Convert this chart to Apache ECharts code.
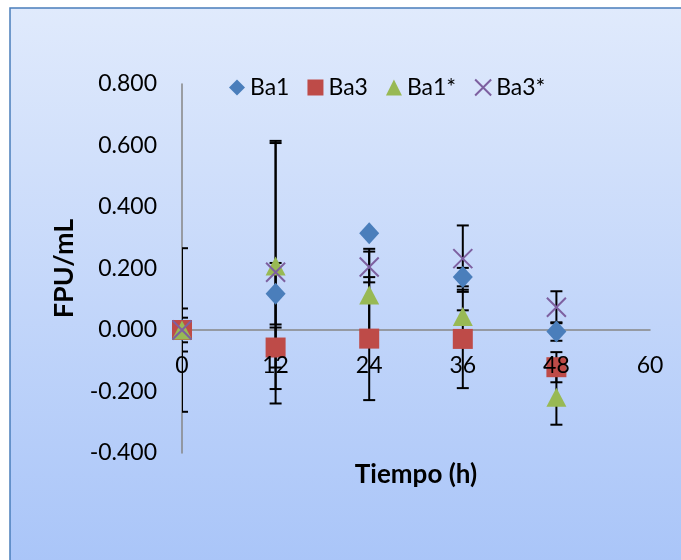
<!DOCTYPE html>
<html>
<head>
<meta charset="utf-8">
<script src="https://cdn.jsdelivr.net/npm/echarts@6/dist/echarts.min.js"></script>
<style>
html,body{margin:0;padding:0;background:#fff;}
#c{width:681px;height:560px;}
</style>
</head>
<body>
<div id="c"></div>
<script>
var times = [0, 12, 24, 36, 48];
var xTicks = [0, 12, 24, 36, 48, 60];
var yTicks = [-0.4, -0.2, 0, 0.2, 0.4, 0.6, 0.8];
var seriesNames = ['Ba1', 'Ba3', 'Ba1*', 'Ba3*'];
var ba1 = [0, 0.118, 0.315, 0.172, -0.005];
var ba1Err = [0.266, 0.10, 0.005, 0.03, 0.03];
var ba3 = [0, -0.057, -0.028, -0.029, -0.121];
var ba3Err = [0.07, 0.065, 0.20, 0.16, 0.049];
var ba1s = [0, 0.208, 0.114, 0.044, -0.219];
var ba1sErr = [0.04, 0.40, 0.15, 0.02, 0.089];
var ba3s = [0, 0.188, 0.205, 0.232, 0.074];
var ba3sErr = [0.02, 0.427, 0.05, 0.108, 0.052];

var values = [ba1, ba3, ba1s, ba3s];
var errs = [ba1Err, ba3Err, ba1sErr, ba3sErr];
var colors = ['#4a7ebb', '#be4b48', '#98b954', '#7d60a0'];
var FONT = 'Lato';

function pts(v) { return times.map(function (t, i) { return [t, v[i]]; }); }
var errData = [];
values.forEach(function (v, s) {
  times.forEach(function (t, i) { errData.push([t, v[i], errs[s][i]]); });
});

var chart = echarts.init(document.getElementById('c'), null, {renderer: 'canvas'});
var option = {
  animation: false,
  graphic: [{
    type: 'rect', z: -10, silent: true,
    shape: {x: 10, y: 8, width: 720, height: 600},
    style: {
      fill: new echarts.graphic.LinearGradient(0, 0, 0, 1, [
        {offset: 0, color: '#e0eafc'}, {offset: 1, color: '#a5c2f8'}
      ]),
      stroke: '#4a7ebb', lineWidth: 1.5
    }
  }],
  grid: {left: 182, right: 31, top: 84, bottom: 107, containLabel: false, outerBoundsMode: 'none'},
  legend: {
    data: [
      {name: 'Ba1'}, {name: 'Ba3'}, {name: 'Ba1*'}, {name: 'Ba3*'}
    ],
    left: 224, top: 71, itemWidth: 16, itemHeight: 16, itemGap: 18,
    textStyle: {fontFamily: FONT, fontSize: 23, color: '#000'}
  },
  xAxis: [{
    type: 'value', min: 0, max: 60, interval: 12, position: 'bottom', z: 0,
    axisLine: {onZero: true, lineStyle: {color: '#868686', width: 1.5}},
    axisTick: {show: false}, splitLine: {show: false},
    axisLabel: {show: false},
    name: 'Tiempo (h)', nameLocation: 'middle', nameGap: 9,
    nameTextStyle: {fontFamily: FONT, fontSize: 26, fontWeight: 'bold', color: '#000'}
  }, {
    type: 'value', min: 0, max: 60, interval: 12, position: 'bottom', z: 20,
    axisLine: {show: false, onZero: false},
    axisTick: {show: false}, splitLine: {show: false},
    axisLabel: {fontFamily: FONT, fontSize: 23, color: '#000', margin: -99}
  }],
  yAxis: {
    type: 'value', min: -0.4, max: 0.8, interval: 0.2,
    axisLine: {show: true, lineStyle: {color: '#868686', width: 1.5}},
    axisTick: {show: false}, splitLine: {show: false},
    axisLabel: {fontFamily: FONT, fontSize: 23, color: '#000', margin: 25,
      formatter: function (v) { return v.toFixed(3); }},
    name: 'FPU/mL', nameLocation: 'middle', nameGap: 104, nameRotate: 90,
    nameTextStyle: {fontFamily: FONT, fontSize: 27, fontWeight: 'bold', color: '#000'}
  },
  series: [
    {
      type: 'custom', name: 'err', z: 1, clip: true, silent: true,
      data: errData,
      renderItem: function (params, api) {
        var x = api.value(0), y = api.value(1), e = api.value(2);
        var top = api.coord([x, y + e]);
        var bot = api.coord([x, y - e]);
        var w = 6;
        var st = {stroke: '#000', lineWidth: 2};
        return {
          type: 'group', children: [
            {type: 'line', shape: {x1: top[0], y1: top[1], x2: bot[0], y2: bot[1]}, style: st},
            {type: 'line', shape: {x1: top[0] - w, y1: top[1], x2: top[0] + w, y2: top[1]}, style: st},
            {type: 'line', shape: {x1: bot[0] - w, y1: bot[1], x2: bot[0] + w, y2: bot[1]}, style: st}
          ]
        };
      }
    },
    {name: 'Ba1', type: 'scatter', z: 3, data: pts(ba1), symbol: 'diamond', symbolSize: [20, 22],
      itemStyle: {color: colors[0], opacity: 1}},
    {name: 'Ba3', type: 'scatter', z: 4, data: pts(ba3), symbol: 'rect', symbolSize: [20, 20],
      itemStyle: {color: colors[1], opacity: 1}},
    {name: 'Ba1*', type: 'scatter', z: 5, data: pts(ba1s), symbol: 'triangle', symbolSize: [20, 19],
      itemStyle: {color: colors[2], opacity: 1}},
    {name: 'Ba3*', type: 'scatter', z: 6, data: pts(ba3s), symbol: 'path://M0,0L20,20M20,0L0,20', symbolSize: [19, 19],
      itemStyle: {color: 'transparent', borderColor: colors[3], borderWidth: 2, opacity: 1}}
  ]
};
chart.setOption(option);
</script>
</body>
</html>
